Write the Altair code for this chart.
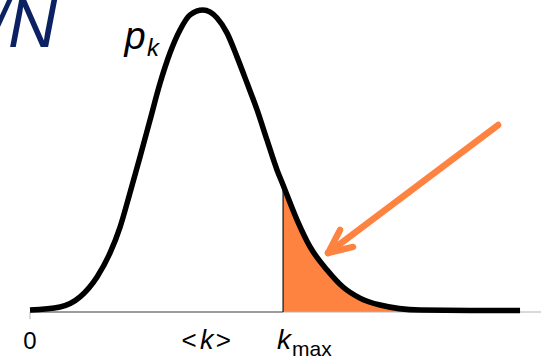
import altair as alt
import pandas as pd

# Degree distribution p_k sampled along the curve (k in units of the x scale)
k_vals = [0.0, 1.73, 2.89, 3.87, 4.62, 5.20, 5.77, 6.35, 6.93, 7.51, 8.08,
          8.66, 9.24, 9.99, 10.80, 11.37, 11.95, 12.53, 13.11, 13.68, 14.26,
          14.61, 15.42, 16.17, 17.15, 18.07, 19.05, 20.21, 22.52, 25.40, 28.29]
p_vals = [0.0008, 0.0021, 0.0063, 0.0146, 0.0246, 0.0354, 0.0496, 0.0646,
          0.0800, 0.0954, 0.1079, 0.1175, 0.1238, 0.1258, 0.1225, 0.1163,
          0.1063, 0.0954, 0.0842, 0.0717, 0.0592, 0.0529, 0.0383, 0.0271,
          0.0175, 0.0104, 0.0058, 0.0029, 0.0008, 0.0006, 0.0006]

K_MEAN = 10.2      # <k>
K_MAX = 14.61      # k_max, start of the shaded tail
P_AT_KMAX = 0.0529
K_END = 29.5       # right end of the k axis
P_TOP = 0.13

# Arrow pointing at the tail: shaft from tail to tip, two barbs at the tip
arrow_k0 = [27.02, 17.21, 17.21]
arrow_p0 = [0.0779, 0.0246, 0.0246]
arrow_k1 = [17.21, 17.90, 18.65]
arrow_p1 = [0.0246, 0.0342, 0.0271]

ORANGE = "#FF8340"
NAVY = "#0B2161"
FONT = "Liberation Sans"

curve = pd.DataFrame({"k": k_vals, "p": p_vals})
arrow = pd.DataFrame({"k0": arrow_k0, "p0": arrow_p0, "k1": arrow_k1, "p1": arrow_p1})

xs = alt.Scale(domain=[0, K_END], nice=False, zero=False)
ys = alt.Scale(domain=[0, P_TOP], nice=False, zero=False)

X = alt.X("k:Q", scale=xs, axis=None)
Y = alt.Y("p:Q", scale=ys, axis=None)

base = alt.Chart(curve)

tail = base.transform_filter(alt.datum.k >= K_MAX).mark_area(
    color=ORANGE, interpolate="monotone", opacity=1
).encode(x=X, y=Y)

axis_dark = alt.Chart(pd.DataFrame({"k0": [0], "k1": [K_MAX], "p": [0]})).mark_rule(
    color="#3a3a3a", strokeWidth=1.2
).encode(x=alt.X("k0:Q", scale=xs, axis=None), x2="k1:Q", y=alt.Y("p:Q", scale=ys, axis=None))

axis_light = alt.Chart(pd.DataFrame({"k0": [K_MAX], "k1": [K_END], "p": [0]})).mark_rule(
    color="#b4b4b4", strokeWidth=1.2
).encode(x=alt.X("k0:Q", scale=xs, axis=None), x2="k1:Q", y=alt.Y("p:Q", scale=ys, axis=None))

zero_tick = alt.Chart(pd.DataFrame({"k": [0], "p0": [0], "p1": [-0.003]})).mark_rule(
    color="#b4b4b4", strokeWidth=1
).encode(x=alt.X("k:Q", scale=xs, axis=None), y=alt.Y("p0:Q", scale=ys, axis=None), y2="p1:Q")

kmax_line = alt.Chart(pd.DataFrame({"k": [K_MAX], "p0": [0], "p1": [P_AT_KMAX]})).mark_rule(
    color="#111111", strokeWidth=1.2
).encode(x=alt.X("k:Q", scale=xs, axis=None), y=alt.Y("p0:Q", scale=ys, axis=None), y2="p1:Q")

line = base.mark_line(
    color="black", strokeWidth=5.5, interpolate="monotone", strokeCap="butt"
).encode(x=X, y=Y)

arrow_marks = alt.Chart(arrow).mark_rule(
    color=ORANGE, strokeWidth=6.5, strokeCap="round"
).encode(
    x=alt.X("k0:Q", scale=xs, axis=None), y=alt.Y("p0:Q", scale=ys, axis=None),
    x2="k1:Q", y2="p1:Q"
)


def label(text, k, y, size, italic=False, align="center", dx=0, color="black"):
    props = dict(text=text, font=FONT, fontSize=size, align=align, baseline="alphabetic",
                 dx=dx, color=color)
    if italic:
        props["fontStyle"] = "italic"
    return alt.Chart(pd.DataFrame({"k": [k]})).mark_text(**props).encode(
        x=alt.X("k:Q", scale=xs, axis=None), y=alt.value(y)
    )


labels = [
    label("0", 0, 349, 24),
    label("<", K_MEAN, 349, 26, align="right", dx=-10),
    label("k", K_MEAN, 349, 27, italic=True),
    label(">", K_MEAN, 349, 26, align="left", dx=9),
    label("k", K_MAX, 349, 28, italic=True, align="left", dx=-6),
    label("max", K_MAX, 356, 21, align="left", dx=9),
    label("p", 5.45, 49, 38, italic=True, align="left"),
    label("k", 6.75, 56, 24, italic=True, align="left"),
]

title = alt.Chart(pd.DataFrame({"t": ["1/N"]})).mark_text(
    font=FONT, fontSize=68, fontStyle="italic", color=NAVY, align="right",
    baseline="alphabetic"
).encode(text="t:N", x=alt.value(27), y=alt.value(47))

chart = alt.layer(
    tail, axis_dark, axis_light, zero_tick, kmax_line, line, arrow_marks, *labels, title
).properties(
    width=511, height=312,
    autosize=alt.AutoSizeParams(type="none"),
    padding={"left": 30, "top": 0, "right": 0, "bottom": 48},
    background="white",
).configure_view(stroke=None)

chart.save("out.html", embed_options={"renderer": "svg", "actions": False})
